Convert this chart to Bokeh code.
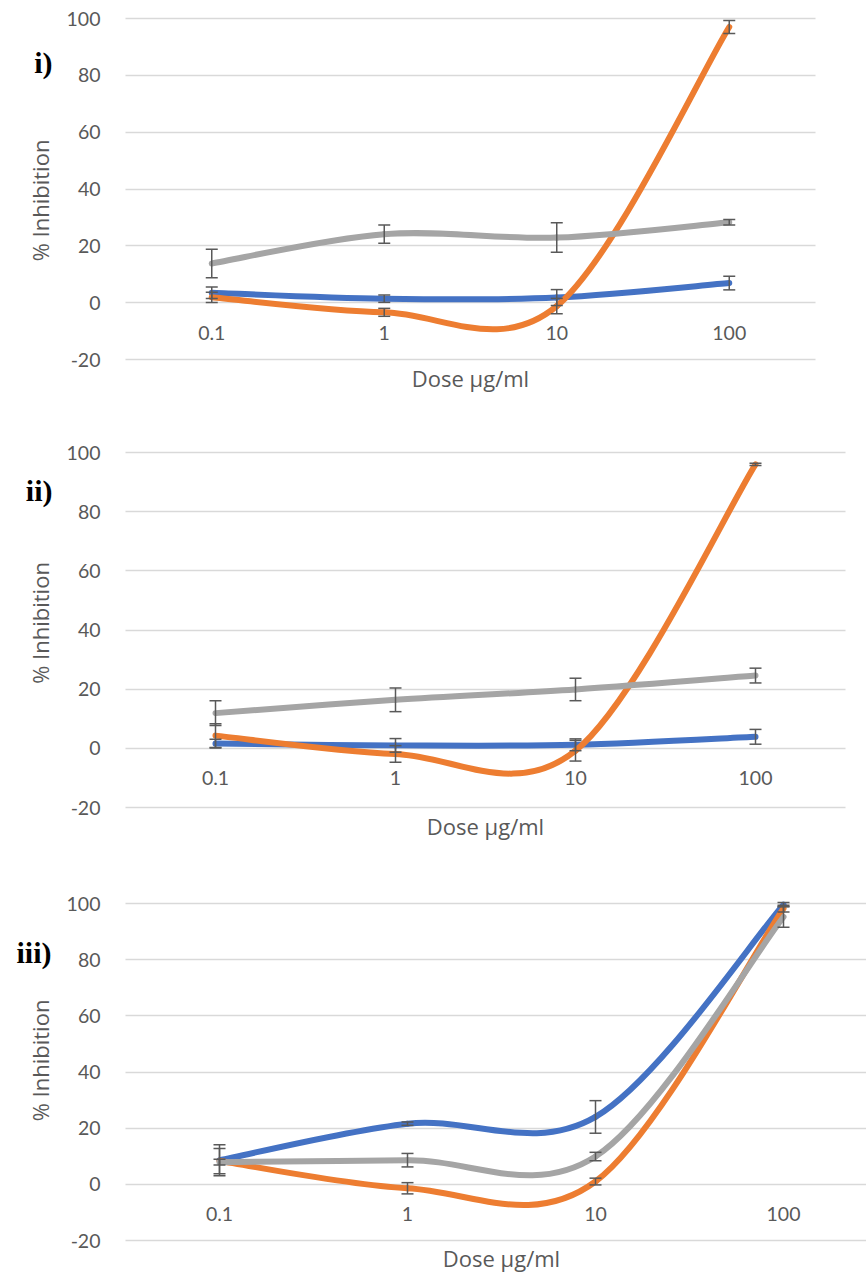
from bokeh.plotting import figure
from bokeh.models import (FixedTicker, Label, Whisker, TeeHead, ColumnDataSource,
                          Range1d, LinearAxis, Grid)
from bokeh.layouts import column
from bokeh.embed import file_html
from bokeh.resources import INLINE

# ---------------- data ----------------
doses = ["0.1", "1", "10", "100"]
y_ticks = [-20, 0, 20, 40, 60, 80, 100]
y_tick_labels = ["-20", "0", "20", "40", "60", "80", "100"]
panel_labels = ["i)", "ii)", "iii)"]
x_title = "Dose µg/ml"
y_title = "% Inhibition"

# panel i
blue_i = [3.5, 1.4, 1.8, 6.9]
blue_i_err = [2.0, 1.3, 2.8, 2.4]
orange_i = [1.9, -3.4, -1.2, 97.0]
orange_i_err = [1.8, 1.4, 2.7, 2.3]
grey_i = [13.8, 24.1, 22.9, 28.3]
grey_i_err = [5.0, 3.2, 5.2, 1.0]

# panel ii
blue_ii = [1.6, 1.0, 1.2, 3.9]
blue_ii_err = [1.5, 2.3, 2.0, 2.5]
orange_ii = [4.3, -1.9, -0.8, 96.0]
orange_ii_err = [4.0, 2.8, 3.5, 0.4]
grey_ii = [11.9, 16.4, 19.9, 24.6]
grey_ii_err = [4.2, 4.0, 3.8, 2.5]

# panel iii
blue_iii = [8.6, 21.6, 24.0, 99.6]
blue_iii_err = [5.5, 0.6, 5.8, 0.8]
orange_iii = [8.3, -1.4, 1.0, 98.2]
orange_iii_err = [4.5, 2.0, 1.2, 1.2]
grey_iii = [7.9, 8.6, 9.9, 95.2]
grey_iii_err = [1.0, 2.4, 1.5, 3.7]

BLUE = "#4472C4"
ORANGE = "#ED7D31"
GREY = "#A5A5A5"
TEXT = "#595959"
ERR = "#595959"
GRID = "#D9D9D9"


def smooth_source(xs, ys):
    """Excel-style smoothed line: cubic Bezier segments between data points."""
    n = len(xs)
    d = dict(x0=[], y0=[], x1=[], y1=[], cx0=[], cy0=[], cx1=[], cy1=[])
    for i in range(n - 1):
        pm = max(i - 1, 0)
        pp = min(i + 2, n - 1)
        d["x0"].append(xs[i]); d["y0"].append(ys[i])
        d["x1"].append(xs[i + 1]); d["y1"].append(ys[i + 1])
        d["cx0"].append(xs[i] + (xs[i + 1] - xs[pm]) / 6.0)
        d["cy0"].append(ys[i] + (ys[i + 1] - ys[pm]) / 6.0)
        d["cx1"].append(xs[i + 1] - (xs[pp] - xs[i]) / 6.0)
        d["cy1"].append(ys[i + 1] - (ys[pp] - ys[i]) / 6.0)
    return ColumnDataSource(d)


def make_panel(label, series, unit_px, fig_h, top_px, bottom_px, grid_end,
               label_px, title_base):
    W = 866
    left = 125
    xs = list(range(len(doses)))
    x_first = -0.5
    x_start = x_first - left / unit_px
    x_stop = x_first + (W - left) / unit_px
    if grid_end is None:
        grid_end = x_stop
    v = (bottom_px - top_px) / (y_ticks[-1] - y_ticks[0])
    y_top = y_ticks[-1] + top_px / v
    y_bot = y_ticks[0] - (fig_h - bottom_px) / v

    p = figure(width=W, height=fig_h, min_border=0,
               min_border_left=0, min_border_right=0,
               min_border_top=0, min_border_bottom=0,
               x_range=Range1d(x_start, x_stop), y_range=Range1d(y_bot, y_top),
               output_backend="svg", toolbar_location=None,
               x_axis_location=None, y_axis_location=None)
    p.outline_line_color = None
    p.background_fill_color = "white"
    p.border_fill_color = "white"
    for g in p.grid:
        g.visible = False

    # horizontal gridlines, only across the plot area
    if "cross_bounds" in Grid.properties():
        grid = Grid(dimension=1, ticker=FixedTicker(ticks=y_ticks),
                    grid_line_color=GRID, grid_line_width=1.5,
                    cross_bounds=(x_first, grid_end))
        p.add_layout(grid)
    else:
        p.segment(x0=[x_first] * len(y_ticks), x1=[grid_end] * len(y_ticks),
                  y0=y_ticks, y1=y_ticks, line_color=GRID, line_width=1.5,
                  level="underlay")

    # y axis at the left edge of the plot area
    yax = LinearAxis(fixed_location=x_first)
    yax.ticker = FixedTicker(ticks=y_ticks)
    yax.major_label_overrides = {t: s for t, s in zip(y_ticks, y_tick_labels)}
    yax.axis_line_color = None
    yax.major_tick_line_color = None
    yax.minor_tick_line_color = None
    yax.major_tick_out = 0
    yax.major_tick_in = 0
    yax.major_label_standoff = 25
    yax.major_label_text_font = "Lato"
    yax.major_label_text_font_size = "19.5px"
    yax.major_label_text_color = TEXT
    yax.axis_label = y_title
    yax.axis_label_text_font = "Open Sans"
    yax.axis_label_text_font_size = "22px"
    yax.axis_label_text_font_style = "normal"
    yax.axis_label_text_color = TEXT
    yax.axis_label_standoff = 9
    p.add_layout(yax, "left")

    # x axis crossing at y = 0
    xax = LinearAxis(fixed_location=0)
    xax.ticker = FixedTicker(ticks=xs)
    xax.major_label_overrides = {i: d for i, d in enumerate(doses)}
    xax.axis_line_color = None
    xax.major_tick_line_color = None
    xax.minor_tick_line_color = None
    xax.major_tick_out = 0
    xax.major_tick_in = 0
    xax.major_label_standoff = 23
    xax.major_label_text_font = "Lato"
    xax.major_label_text_font_size = "19.5px"
    xax.major_label_text_color = TEXT
    p.add_layout(xax, "below")

    # smoothed lines (series order: blue, orange, grey)
    for ys, errs, color in series:
        src = smooth_source(xs, ys)
        p.bezier(x0="x0", y0="y0", x1="x1", y1="y1", cx0="cx0", cy0="cy0",
                 cx1="cx1", cy1="cy1", source=src, line_color=color,
                 line_width=6, line_cap="round")

    # error bars
    for ys, errs, color in series:
        esrc = ColumnDataSource(dict(
            x=xs,
            upper=[y + e for y, e in zip(ys, errs)],
            lower=[y - e for y, e in zip(ys, errs)]))
        w = Whisker(source=esrc, base="x", upper="upper", lower="lower",
                    line_color=ERR, line_width=1.5, level="annotation",
                    upper_head=TeeHead(size=12, line_color=ERR, line_width=1.5),
                    lower_head=TeeHead(size=12, line_color=ERR, line_width=1.5))
        p.add_layout(w)

    # x-axis title, centred on the plot area
    p.add_layout(Label(x=(x_first + x_first + len(doses)) / 2,
                       y=title_base, x_units="data", y_units="screen",
                       text=x_title, text_align="center",
                       text_baseline="alphabetic",
                       text_font="Open Sans", text_font_size="22px",
                       text_color=TEXT))
    # panel label
    p.add_layout(Label(x=label_px[0], y=fig_h - label_px[1], x_units="screen",
                       y_units="screen", text=label, text_align="right",
                       text_baseline="middle", text_font="Liberation Serif",
                       text_font_style="bold", text_font_size="30px",
                       text_color="black"))
    return p


p1 = make_panel(panel_labels[0],
                [(blue_i, blue_i_err, BLUE), (orange_i, orange_i_err, ORANGE),
                 (grey_i, grey_i_err, GREY)],
                unit_px=172.5, fig_h=400, top_px=18, bottom_px=359,
                grid_end=3.5, label_px=(52, 62), title_base=23)
p2 = make_panel(panel_labels[1],
                [(blue_ii, blue_ii_err, BLUE), (orange_ii, orange_ii_err, ORANGE),
                 (grey_ii, grey_ii_err, GREY)],
                unit_px=180, fig_h=445, top_px=52, bottom_px=407,
                grid_end=3.5, label_px=(52, 90), title_base=20)
p3 = make_panel(panel_labels[2],
                [(blue_iii, blue_iii_err, BLUE), (orange_iii, orange_iii_err, ORANGE),
                 (grey_iii, grey_iii_err, GREY)],
                unit_px=188, fig_h=430, top_px=58, bottom_px=395,
                grid_end=None, label_px=(51, 107), title_base=18)

layout = column(p1, p2, p3, spacing=0)
open("out.html", "w").write(file_html(layout, INLINE))
